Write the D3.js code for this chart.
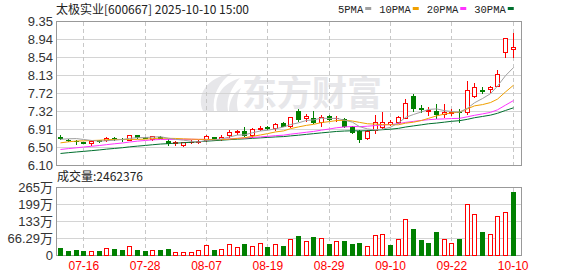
<!DOCTYPE html>
<html>
<head>
<meta charset="utf-8">
<script src="https://cdn.jsdelivr.net/npm/d3@7"></script>
<style>
body { margin: 0; background: #fff; }
</style>
</head>
<body>
<div id="chart"></div>
<script>
var dates = ["07-11","07-14","07-15","07-16","07-17","07-18","07-21","07-22","07-23","07-24",
             "07-25","07-28","07-29","07-30","07-31","08-01","08-04","08-05","08-06","08-07",
             "08-08","08-11","08-12","08-13","08-14","08-15","08-18","08-19","08-20","08-21",
             "08-22","08-25","08-26","08-27","08-28","08-29","09-01","09-02","09-03","09-04",
             "09-05","09-08","09-09","09-10","09-11","09-12","09-15","09-16","09-17","09-18",
             "09-19","09-22","09-23","09-24","09-25","09-26","09-29","09-30","10-09","10-10"];

var open = [6.74,6.67,6.65,6.61,6.59,6.66,6.66,6.71,6.69,6.67, 6.77,6.73,6.68,6.73,6.64,6.60,6.56,6.62,6.63,6.66,
            6.73,6.68,6.77,6.84,6.87,6.78,6.92,6.95,6.93,7.05, 6.97,7.32,7.16,7.16,7.06,7.20,7.15,7.14,6.95,6.86,
            6.70,6.90,6.96,7.03,7.06,7.17,7.66,7.38,7.33,7.32, 7.26,7.28,7.30,7.29,7.66,7.79,7.81,7.89,8.64,8.71];
var high = [6.77,6.68,6.67,6.62,6.67,6.67,6.73,6.73,6.71,6.78, 6.78,6.74,6.76,6.75,6.68,6.64,6.62,6.66,6.66,6.78,
            6.74,6.77,6.88,6.90,6.96,6.93,6.97,6.98,7.04,7.08, 7.19,7.36,7.25,7.33,7.23,7.22,7.21,7.17,6.99,6.88,
            6.88,7.23,7.29,7.11,7.20,7.60,7.70,7.45,7.42,7.48, 7.48,7.36,7.36,7.99,7.94,7.85,7.89,8.24,8.96,9.07];
var low  = [6.69,6.65,6.57,6.59,6.55,6.63,6.64,6.67,6.65,6.66, 6.72,6.71,6.66,6.70,6.55,6.56,6.54,6.59,6.60,6.65,
            6.66,6.66,6.74,6.81,6.75,6.74,6.90,6.92,6.90,6.98, 6.96,7.10,7.10,7.04,6.99,7.11,7.10,6.95,6.82,6.61,
            6.68,6.82,6.93,7.00,7.04,7.15,7.33,7.29,7.23,7.17, 7.19,7.22,7.06,7.24,7.64,7.72,7.75,7.89,8.53,8.53];
var close = [6.72,6.66,6.64,6.60,6.65,6.64,6.71,6.70,6.68,6.77, 6.73,6.72,6.75,6.72,6.60,6.61,6.62,6.63,6.64,6.76,
             6.67,6.74,6.85,6.86,6.78,6.91,6.94,6.93,7.02,6.99, 7.18,7.14,7.20,7.08,7.19,7.13,7.17,6.99,6.85,6.69,
             6.87,7.06,7.08,7.06,7.18,7.49,7.39,7.37,7.34,7.24, 7.29,7.30,7.29,7.79,7.85,7.77,7.85,8.15,8.96,8.76];
// closes before 07-11, needed so the moving averages start where the picture shows them
var earlierClose = [6.12,6.15,6.20,6.17,6.14,6.19,6.22,6.18,6.20,6.23,
                    6.25,6.28,6.26,6.31,6.29,6.33,6.30,6.32,6.35,6.31,
                    6.42,6.48,6.55,6.58,6.57, 6.60,6.62,6.70,6.76];
// volume in 万 (10k)
var volume = [27,16,19.5,16,14,16,26,23,19.5,34, 19.5,16,18,19.5,23,10,10,10,18,38,
              19.5,22,42,30,43,34,45,31,42,35, 61,74,53,70,65,43,53,55,43,47,
              34,77,81,39,61,139,101,58,47,90, 61,45,62,199,159,90,81,152,166,246.2376];

var priceTicks = [6.10, 6.50, 6.91, 7.32, 7.72, 8.13, 8.54, 8.94, 9.35];
var volTicks = [0, 66.29, 132.58, 198.87, 265.16];
var volTickLabels = ["0", "66.29万", "133万", "199万", "265万"];
var tickDates = ["07-16","07-28","08-07","08-19","08-29","09-10","09-22","10-10"];
var maPeriods = [5, 10, 20, 30];
var maColors = ["#a0a0a0", "#f0a000", "#ff33ff", "#006f2e"];

var width = 578, height = 276;
var left = 56, right = 522;
var priceTop = 21, priceBottom = 165, volTop = 187, volBottom = 255;
var red = "#ff0000", green = "#008000";
var numFont = "Arial, 'Liberation Sans', 'Noto Sans CJK SC', sans-serif";
var cjkFont = "'Noto Sans CJK SC', 'Liberation Sans', sans-serif";

var svg = d3.select("#chart").append("svg")
    .attr("width", width)
    .attr("height", height);

var x = d3.scaleBand().domain(dates).range([56.5, 516.5]);
var y = d3.scaleLinear().domain([6.10, 9.35]).range([priceBottom, priceTop]);
var yv = d3.scaleLinear().domain([0, 265.16]).range([volBottom, volTop]);

function cx(i) { return Math.round(x(dates[i]) + x.bandwidth() / 2); }

// watermark
var wm = svg.append("g").attr("fill", "#e7e7ea");
wm.append("path")
    .attr("d", "M203,111 C196,95 206,78 232,73 C219,82 212,95 214,111 Z");
wm.append("path")
    .attr("d", "M217,111 C214,96 222,84 240,78 C231,88 226,99 228,111 Z");
wm.append("path")
    .attr("d", "M229,111 C229,101 233,93 241,88 C237,96 236,103 238,111 Z");
wm.append("text")
    .attr("x", 242).attr("y", 106)
    .attr("font-family", cjkFont)
    .attr("font-weight", "bold")
    .attr("font-size", 35)
    .text("东方财富");

// horizontal grid
svg.append("g").selectAll("line")
    .data(priceTicks)
    .enter().append("line")
    .attr("x1", left).attr("x2", right)
    .attr("y1", d => Math.round(y(d)) + 0.5)
    .attr("y2", d => Math.round(y(d)) + 0.5)
    .attr("stroke", (d, i) => (i === 0 || i === priceTicks.length - 1) ? "#999" : "#d4d4d4");

svg.append("g").selectAll("line")
    .data(volTicks)
    .enter().append("line")
    .attr("x1", left).attr("x2", right)
    .attr("y1", d => Math.round(yv(d)) + 0.5)
    .attr("y2", d => Math.round(yv(d)) + 0.5)
    .attr("stroke", (d, i) => (i === 0 || i === volTicks.length - 1) ? "#999" : "#d4d4d4");

// vertical dashed grid
var vg = svg.append("g")
    .attr("stroke", "#c8c8c8")
    .attr("stroke-dasharray", "4,3");
tickDates.forEach(function(d) {
    var xx = cx(dates.indexOf(d)) + 0.5;
    vg.append("line").attr("x1", xx).attr("x2", xx).attr("y1", priceTop + 1).attr("y2", priceBottom);
    vg.append("line").attr("x1", xx).attr("x2", xx).attr("y1", volTop + 1).attr("y2", volBottom);
});

// frame sides
[[priceTop, priceBottom], [volTop, volBottom]].forEach(function(r) {
    svg.append("line").attr("x1", left + 0.5).attr("x2", left + 0.5)
        .attr("y1", r[0]).attr("y2", r[1] + 1).attr("stroke", "#999");
    svg.append("line").attr("x1", right - 0.5).attr("x2", right - 0.5)
        .attr("y1", r[0]).attr("y2", r[1] + 1).attr("stroke", "#999");
});

// candles
var candles = svg.append("g").selectAll("g")
    .data(dates)
    .enter().append("g");

candles.append("line")
    .attr("x1", (d, i) => cx(i) + 0.5)
    .attr("x2", (d, i) => cx(i) + 0.5)
    .attr("y1", (d, i) => Math.round(y(high[i])))
    .attr("y2", (d, i) => Math.round(y(low[i])) + 1)
    .attr("stroke", (d, i) => close[i] >= open[i] ? red : green);

candles.append("rect")
    .attr("x", (d, i) => cx(i) - 2 + 0.5)
    .attr("width", 4)
    .attr("y", (d, i) => Math.round(y(Math.max(open[i], close[i]))) + 0.5)
    .attr("height", (d, i) => Math.max(0.01, Math.round(y(Math.min(open[i], close[i]))) - Math.round(y(Math.max(open[i], close[i])))))
    .attr("fill", (d, i) => close[i] >= open[i] ? "#fff" : green)
    .attr("stroke", (d, i) => close[i] >= open[i] ? red : green);

// moving averages
var allClose = earlierClose.concat(close);
function movingAverage(n) {
    return close.map(function(c, i) {
        var end = earlierClose.length + i;
        return d3.mean(allClose.slice(end - n + 1, end + 1));
    });
}
var line = d3.line()
    .x((d, i) => cx(i) + 0.5)
    .y(d => y(d));

maPeriods.slice().reverse().forEach(function(n) {
    var k = maPeriods.indexOf(n);
    svg.append("path")
        .datum(movingAverage(n))
        .attr("d", line)
        .attr("fill", "none")
        .attr("stroke", maColors[k])
        .attr("stroke-width", 1);
});

// volume bars
var prevClose = [earlierClose[earlierClose.length - 1]].concat(close.slice(0, -1));
svg.append("g").selectAll("rect")
    .data(volume)
    .enter().append("rect")
    .attr("x", (d, i) => cx(i) - 2 + 0.5)
    .attr("width", 4)
    .attr("y", d => Math.round(yv(d)) + 0.5)
    .attr("height", d => volBottom - Math.round(yv(d)))
    .attr("fill", (d, i) => close[i] >= prevClose[i] ? "#fff" : green)
    .attr("stroke", (d, i) => close[i] >= prevClose[i] ? red : green);

// axes
svg.append("g")
    .attr("transform", "translate(" + left + ",0)")
    .call(d3.axisLeft(y).tickValues(priceTicks).tickFormat(d3.format(".2f")).tickSize(0).tickPadding(3))
    .call(g => g.select(".domain").remove())
    .attr("font-family", numFont)
    .attr("font-size", 13)
    .selectAll("text").attr("fill", "#333");

svg.append("g")
    .attr("transform", "translate(" + left + ",0)")
    .call(d3.axisLeft(yv).tickValues(volTicks).tickFormat((d, i) => volTickLabels[i]).tickSize(0).tickPadding(3))
    .call(g => g.select(".domain").remove())
    .attr("font-family", numFont)
    .attr("font-size", 13)
    .selectAll("text").attr("fill", "#333");

svg.append("g")
    .attr("transform", "translate(0.5," + volBottom + ")")
    .call(d3.axisBottom(x).tickValues(tickDates).tickSize(0).tickPadding(6))
    .call(g => g.select(".domain").remove())
    .attr("font-family", numFont)
    .attr("font-size", 12)
    .selectAll("text").attr("fill", red);

// title
svg.append("text")
    .attr("x", 56).attr("y", 14)
    .attr("font-family", cjkFont)
    .attr("font-size", 12)
    .attr("fill", "#222")
    .text("太极实业[600667] 2025-10-10 15:00");

svg.append("text")
    .attr("x", 57).attr("y", 181)
    .attr("font-family", cjkFont)
    .attr("font-size", 12)
    .attr("fill", "#222")
    .text("成交量:" + Math.round(volume[volume.length - 1] * 10000));

// legend
var lx = 338;
maPeriods.forEach(function(n, k) {
    var t = svg.append("text")
        .attr("x", lx).attr("y", 13)
        .attr("font-family", "'Liberation Mono', monospace")
        .attr("font-size", 10.5)
        .attr("fill", "#222")
        .text(n + "PMA");
    lx += t.node().getComputedTextLength() + 2;
    svg.append("rect")
        .attr("x", lx).attr("y", 7)
        .attr("width", 6).attr("height", 3)
        .attr("fill", maColors[k]);
    lx += 6 + 8;
});
</script>
</body>
</html>
